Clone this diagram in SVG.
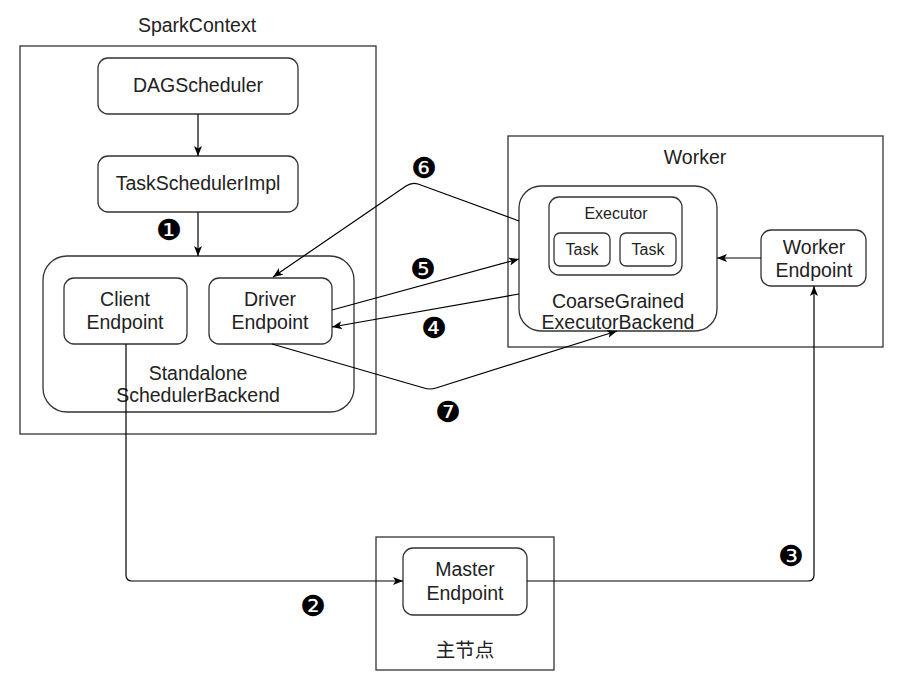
<svg xmlns="http://www.w3.org/2000/svg" width="908" height="677" viewBox="0 0 908 677">
<defs>
<marker id="arr" markerUnits="userSpaceOnUse" markerWidth="12" markerHeight="10" viewBox="0 0 12 10" refX="10" refY="5" orient="auto">
<path d="M0,1 L10,5 L0,9 L2.5,5 z" fill="#000"/>
</marker>
<style>
.box{fill:#fff;stroke:#333;stroke-width:1.3}
.t{font-family:"Liberation Sans",Arial,sans-serif;font-size:19.5px;fill:#222;text-anchor:middle}
.n{font-family:"DejaVu Sans",sans-serif;font-size:29px;fill:#000;text-anchor:middle;dominant-baseline:central}
.e{fill:none;stroke:#000;stroke-width:1.2}
</style>
</defs>
<rect width="908" height="677" fill="#fff"/>

<g id="sparkcontext">
<rect class="box" x="20" y="46" width="356" height="388"/>
<text class="t" x="197" y="32">SparkContext</text>
</g>
<g id="dagscheduler">
<rect class="box" x="98" y="58" width="200" height="56" rx="10"/>
<text class="t" x="198" y="92">DAGScheduler</text>
</g>
<g id="taskschedulerimpl">
<rect class="box" x="98" y="156" width="200" height="56" rx="10"/>
<text class="t" x="198" y="190">TaskSchedulerImpl</text>
</g>
<g id="standalone">
<rect class="box" x="43" y="256" width="311" height="156" rx="24"/>
<text class="t" x="198" y="380">Standalone</text>
<text class="t" x="198" y="402">SchedulerBackend</text>
</g>
<g id="clientendpoint">
<rect class="box" x="64" y="278" width="123" height="66" rx="10"/>
<text class="t" x="125" y="306">Client</text>
<text class="t" x="125" y="329">Endpoint</text>
</g>
<g id="driverendpoint">
<rect class="box" x="209" y="278" width="123" height="66" rx="10"/>
<text class="t" x="270" y="306">Driver</text>
<text class="t" x="270" y="329">Endpoint</text>
</g>

<g id="worker">
<rect class="box" x="508" y="136" width="375" height="211"/>
<text class="t" x="695" y="164">Worker</text>
</g>
<g id="coarsegrained">
<rect class="box" x="519" y="186" width="198" height="145" rx="22"/>
<text class="t" x="618" y="308">CoarseGrained</text>
<text class="t" x="618" y="329">ExecutorBackend</text>
</g>
<g id="executor">
<rect class="box" x="549" y="197" width="133" height="78" rx="10"/>
<text class="t" x="616" y="219" style="font-size:16px">Executor</text>
</g>
<g id="task1">
<rect class="box" x="554" y="233" width="56" height="33" rx="6"/>
<text class="t" x="582" y="255" style="font-size:16px">Task</text>
</g>
<g id="task2">
<rect class="box" x="620" y="233" width="56" height="33" rx="6"/>
<text class="t" x="648" y="255" style="font-size:16px">Task</text>
</g>
<g id="workerendpoint">
<rect class="box" x="761" y="230" width="105" height="56" rx="10"/>
<text class="t" x="814" y="254">Worker</text>
<text class="t" x="814" y="277">Endpoint</text>
</g>

<g id="masternode">
<rect class="box" x="376" y="537" width="178" height="133"/>
<text class="t" x="465" y="657" style="font-family:'Liberation Sans','Noto Sans CJK SC',sans-serif">主节点</text>
</g>
<g id="masterendpoint">
<rect class="box" x="403" y="548" width="124" height="67" rx="10"/>
<text class="t" x="465" y="576">Master</text>
<text class="t" x="465" y="600">Endpoint</text>
</g>

<g id="connectors">
<path class="e" d="M198,114 V156" marker-end="url(#arr)"/>
<path class="e" d="M198,212 V256" marker-end="url(#arr)"/>
<path class="e" d="M519,221 L418,184 Q412,182 406,186 L273,277" marker-end="url(#arr)"/>
<path class="e" d="M332,310 L519,259" marker-end="url(#arr)"/>
<path class="e" d="M519,294 L332,327" marker-end="url(#arr)"/>
<path class="e" d="M272,344 L424,388 Q430,390 436,388 L617,331" marker-end="url(#arr)"/>
<path class="e" d="M126,344 V575 Q126,581 132,581 H403" marker-end="url(#arr)"/>
<path class="e" d="M527,581 H808 Q814,581 814,575 V286" marker-end="url(#arr)"/>
<path class="e" d="M761,258 H717" marker-end="url(#arr)"/>
</g>

<g id="labels">
<text class="n" x="169" y="230">❶</text>
<text class="n" x="313" y="606">❷</text>
<text class="n" x="791" y="556">❸</text>
<text class="n" x="434" y="328">❹</text>
<text class="n" x="423" y="269">❺</text>
<text class="n" x="424" y="168">❻</text>
<text class="n" x="448" y="412">❼</text>
</g>
</svg>
